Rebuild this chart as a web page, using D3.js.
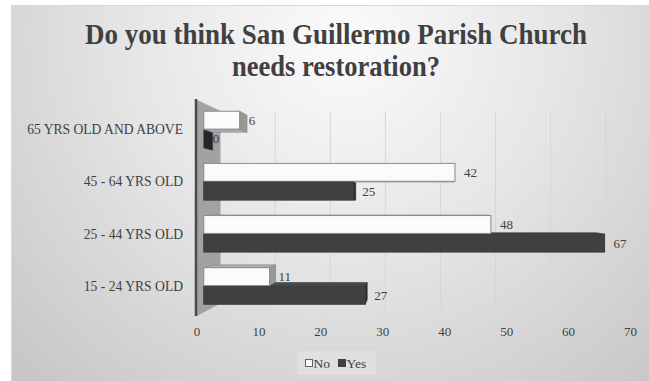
<!DOCTYPE html>
<html><head><meta charset="utf-8">
<script src="https://cdn.jsdelivr.net/npm/d3@7"></script>
<style>html,body{margin:0;padding:0;background:#fff;}svg{display:block;}</style>
</head><body>
<svg id="c" width="649" height="381"></svg>
<script>
// ---- data ----
const categories = ["65 YRS OLD AND ABOVE", "45 - 64 YRS OLD", "25 - 44 YRS OLD", "15 - 24 YRS OLD"];
const seriesNames = ["No", "Yes"];
const noValues = [6, 42, 48, 11];
const yesValues = [0, 25, 67, 27];
const xTickValues = [0, 10, 20, 30, 40, 50, 60, 70];
const titleLines = ["Do you think San Guillermo Parish Church", "needs restoration?"];

// ---- layout ----
const svg = d3.select("#c");
const FONT = "Liberation Serif, DejaVu Serif, serif";
const TXT = "#404040";
const vp = [410, 200];          // vanishing point
const sBack = 0.889, sBarF = 0.966, sBarB = 0.924;

const x = d3.scaleLinear().domain([0, 70]).range([196.5, 630]);
const y = d3.scaleBand().domain(categories).range([100, 316]).paddingInner(0.3).paddingOuter(0.15);
const ySub = d3.scaleBand().domain(seriesNames).range([0, y.bandwidth()]).paddingInner(0.04);

function P(v, yw, s) { return [vp[0] + (x(v) - vp[0]) * s, vp[1] + (yw - vp[1]) * s]; }
const PX = (v, s) => vp[0] + (x(v) - vp[0]) * s;
const PY = (yw, s) => vp[1] + (yw - vp[1]) * s;

// background
const defs = svg.append("defs");
const rg = defs.append("radialGradient").attr("id", "bg").attr("gradientUnits", "userSpaceOnUse")
  .attr("cx", 345).attr("cy", 40).attr("r", 470);
rg.append("stop").attr("offset", 0).attr("stop-color", "#fbfbfb");
rg.append("stop").attr("offset", 0.45).attr("stop-color", "#e6e6e6");
rg.append("stop").attr("offset", 1).attr("stop-color", "#c6c6c6");
svg.append("rect").attr("x", 11.5).attr("y", 5.5).attr("width", 640).attr("height", 380)
  .attr("fill", "url(#bg)").attr("stroke", "#d8d8d8");

// title
const title = svg.append("g").style("font-family", FONT).attr("font-weight", "bold").attr("fill", TXT)
  .attr("text-anchor", "middle").attr("font-size", 29);
const titleWidths = [502, 208];
titleLines.forEach((t, i) => {
  title.append("text").attr("x", 336).attr("y", 44 + i * 32).text(t)
    .attr("textLength", titleWidths[i]).attr("lengthAdjust", "spacingAndGlyphs");
});

// back wall gridlines + floor lines
const grid = svg.append("g").attr("stroke", "#d6d6d6").attr("stroke-width", 1).attr("fill", "none");
xTickValues.filter(v => v > 0).forEach(v => {
  const bx = PX(v, sBack);
  grid.append("line").attr("x1", bx).attr("x2", bx).attr("y1", PY(100, sBack)).attr("y2", PY(316, sBack));
  grid.append("line").attr("x1", bx).attr("x2", x(v)).attr("y1", PY(316, sBack)).attr("y2", 316);
});

// left wall
const wallPts = [[x(0), 100], [PX(0, sBack), PY(100, sBack)], [PX(0, sBack), PY(316, sBack)], [x(0), 316]];
svg.append("polygon").attr("points", wallPts.map(p => p.join(",")).join(" "))
  .attr("fill", "#a2a2a2").attr("stroke", "#9a9a9a").attr("stroke-width", 0.5);
svg.append("line").attr("x1", x(0) - 0.5).attr("x2", x(0) - 0.5).attr("y1", 99).attr("y2", 316)
  .attr("stroke", "#4a4a4a").attr("stroke-width", 2.5);

// bars
const styles = {
  No:  { front: "#fbfbfb", stroke: "#8a8a8a", cap: "#ababab", end: "#979797" },
  Yes: { front: "#404040", stroke: "#3a3a3a", cap: "#4a4a4a", end: "#262626" }
};
const bars = [];
categories.forEach((c, i) => {
  [["No", noValues[i]], ["Yes", yesValues[i]]].forEach(([s, v]) => {
    const y0 = y(c) + ySub(s), y1 = y0 + ySub.bandwidth();
    bars.push({ c, s, v, y0, y1 });
  });
});
bars.sort((a, b) => Math.abs((b.y0 + b.y1) / 2 - vp[1]) - Math.abs((a.y0 + a.y1) / 2 - vp[1]));
const poly = pts => pts.map(p => p.join(",")).join(" ");
const gb = svg.append("g");
bars.forEach(b => {
  const st = styles[b.s];
  const g = gb.append("g");
  if (b.y0 > vp[1]) {
    g.append("polygon").attr("points", poly([P(0, b.y0, sBarF), P(b.v, b.y0, sBarF), P(b.v, b.y0, sBarB), P(0, b.y0, sBarB)]))
      .attr("fill", st.cap).attr("stroke", st.stroke).attr("stroke-width", 0.6);
  }
  if (b.y1 < vp[1]) {
    g.append("polygon").attr("points", poly([P(0, b.y1, sBarF), P(b.v, b.y1, sBarF), P(b.v, b.y1, sBarB), P(0, b.y1, sBarB)]))
      .attr("fill", st.cap).attr("stroke", st.stroke).attr("stroke-width", 0.6);
  }
  if (x(b.v) < vp[0]) {
    g.append("polygon").attr("points", poly([P(b.v, b.y0, sBarF), P(b.v, b.y1, sBarF), P(b.v, b.y1, sBarB), P(b.v, b.y0, sBarB)]))
      .attr("fill", st.end).attr("stroke", st.stroke).attr("stroke-width", 0.6);
  }
  if (b.v > 0) {
    const a = P(0, b.y0, sBarF), d = P(b.v, b.y1, sBarF);
    g.append("rect").attr("x", a[0]).attr("y", a[1]).attr("width", d[0] - a[0]).attr("height", d[1] - a[1])
      .attr("fill", st.front).attr("stroke", st.stroke).attr("stroke-width", 1);
  }
});

// value labels
const vl = svg.append("g").style("font-family", FONT).attr("font-size", 13).attr("fill", TXT);
bars.forEach(b => {
  const e = P(b.v, (b.y0 + b.y1) / 2, sBarF);
  vl.append("text").attr("x", e[0] + 9).attr("y", e[1]).attr("dy", "0.35em").text(b.v);
});

// category labels
const cl = svg.append("g").style("font-family", FONT).attr("font-size", 13.6).attr("fill", TXT).attr("text-anchor", "end");
categories.forEach(c => {
  cl.append("text").attr("x", 183).attr("y", PY(y(c) + y.bandwidth() / 2, sBarF)).attr("dy", "0.35em").text(c);
});

// x axis
const ax = svg.append("g").attr("transform", "translate(0,321)")
  .call(d3.axisBottom(x).tickValues(xTickValues).tickSize(0).tickPadding(6));
ax.select(".domain").remove();
ax.selectAll("text").style("font-family", FONT).attr("font-size", 13).attr("fill", TXT);

// legend
const lg = svg.append("g").style("font-family", FONT).attr("font-size", 13.5).attr("fill", TXT);
lg.append("rect").attr("x", 297).attr("y", 351).attr("width", 79).attr("height", 24).attr("fill", "#e3e3e3").attr("opacity", 0.7);
const legendX = [305, 338];
seriesNames.forEach((s, i) => {
  lg.append("rect").attr("x", legendX[i] + 0.5).attr("y", 359.5).attr("width", 7).attr("height", 7)
    .attr("fill", styles[s].front).attr("stroke", s === "No" ? "#606060" : "#404040");
  lg.append("text").attr("x", legendX[i] + 8.5).attr("y", 363).attr("dy", "0.35em").text(s);
});
</script>
</body></html>
